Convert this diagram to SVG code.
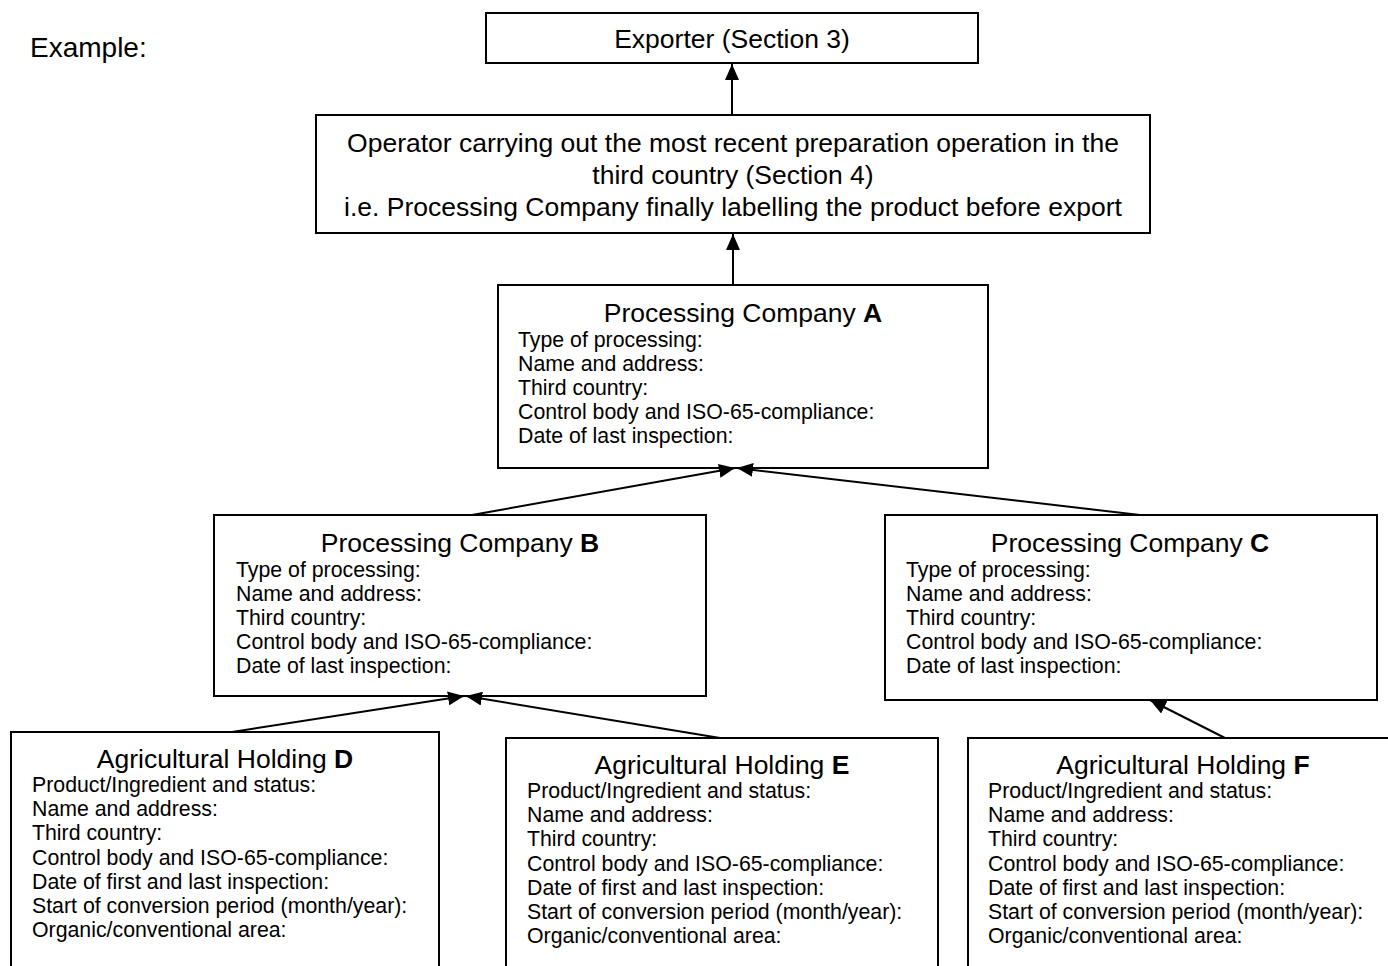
<svg xmlns="http://www.w3.org/2000/svg" width="1388" height="966" viewBox="0 0 1388 966">
<style>
text{font-family:"Liberation Sans",Arial,sans-serif;fill:#000}
.box{fill:#fff;stroke:#000;stroke-width:2}
.big{font-size:28px}
.t{font-size:26.5px}
.f{font-size:21.3px}
.c line{stroke:#000;stroke-width:2;marker-end:url(#ah)}
</style>
<defs>
<marker id="ah" viewBox="0 0 10 10" refX="10" refY="5" markerWidth="16" markerHeight="14" markerUnits="userSpaceOnUse" orient="auto" preserveAspectRatio="none">
<path d="M0,0 L10,5 L0,10 Z" fill="#000"/>
</marker>
</defs>
<rect width="1388" height="966" fill="#fff"/>
<text class="big" x="30" y="57">Example:</text>
<g id="exporter">
<rect class="box" x="486" y="13" width="492" height="50"/>
<text class="t" x="732" y="48" text-anchor="middle">Exporter (Section 3)</text>
</g>
<g id="operator">
<rect class="box" x="316" y="115" width="834" height="118"/>
<text class="t" x="733" y="152" text-anchor="middle">Operator carrying out the most recent preparation operation in the</text>
<text class="t" x="733" y="184" text-anchor="middle">third country (Section 4)</text>
<text class="t" x="733" y="216" text-anchor="middle">i.e. Processing Company finally labelling the product before export</text>
</g>
<g id="procA">
<rect class="box" x="498" y="285" width="490" height="183"/>
<text class="t" x="743" y="322" text-anchor="middle">Processing Company <tspan font-weight="bold">A</tspan></text>
<text class="f" x="518" y="347">Type of processing:</text>
<text class="f" x="518" y="371">Name and address:</text>
<text class="f" x="518" y="395">Third country:</text>
<text class="f" x="518" y="419">Control body and ISO-65-compliance:</text>
<text class="f" x="518" y="443">Date of last inspection:</text>
</g>
<g id="procB">
<rect class="box" x="214" y="515" width="492" height="181"/>
<text class="t" x="460" y="552" text-anchor="middle">Processing Company <tspan font-weight="bold">B</tspan></text>
<text class="f" x="236" y="577">Type of processing:</text>
<text class="f" x="236" y="601">Name and address:</text>
<text class="f" x="236" y="625">Third country:</text>
<text class="f" x="236" y="649">Control body and ISO-65-compliance:</text>
<text class="f" x="236" y="673">Date of last inspection:</text>
</g>
<g id="procC">
<rect class="box" x="885" y="515" width="492" height="185"/>
<text class="t" x="1130" y="552" text-anchor="middle">Processing Company <tspan font-weight="bold">C</tspan></text>
<text class="f" x="906" y="577">Type of processing:</text>
<text class="f" x="906" y="601">Name and address:</text>
<text class="f" x="906" y="625">Third country:</text>
<text class="f" x="906" y="649">Control body and ISO-65-compliance:</text>
<text class="f" x="906" y="673">Date of last inspection:</text>
</g>
<g id="holdD">
<rect class="box" x="11" y="732" width="428" height="250"/>
<text class="t" x="225" y="768" text-anchor="middle">Agricultural Holding <tspan font-weight="bold">D</tspan></text>
<text class="f" x="32" y="792">Product/Ingredient and status:</text>
<text class="f" x="32" y="816">Name and address:</text>
<text class="f" x="32" y="840">Third country:</text>
<text class="f" x="32" y="865">Control body and ISO-65-compliance:</text>
<text class="f" x="32" y="889">Date of first and last inspection:</text>
<text class="f" x="32" y="913">Start of conversion period (month/year):</text>
<text class="f" x="32" y="937">Organic/conventional area:</text>
</g>
<g id="holdE">
<rect class="box" x="506" y="738" width="432" height="250"/>
<text class="t" x="722" y="774" text-anchor="middle">Agricultural Holding <tspan font-weight="bold">E</tspan></text>
<text class="f" x="527" y="798">Product/Ingredient and status:</text>
<text class="f" x="527" y="822">Name and address:</text>
<text class="f" x="527" y="846">Third country:</text>
<text class="f" x="527" y="871">Control body and ISO-65-compliance:</text>
<text class="f" x="527" y="895">Date of first and last inspection:</text>
<text class="f" x="527" y="919">Start of conversion period (month/year):</text>
<text class="f" x="527" y="943">Organic/conventional area:</text>
</g>
<g id="holdF">
<rect class="box" x="968" y="738" width="432" height="250"/>
<text class="t" x="1183" y="774" text-anchor="middle">Agricultural Holding <tspan font-weight="bold">F</tspan></text>
<text class="f" x="988" y="798">Product/Ingredient and status:</text>
<text class="f" x="988" y="822">Name and address:</text>
<text class="f" x="988" y="846">Third country:</text>
<text class="f" x="988" y="871">Control body and ISO-65-compliance:</text>
<text class="f" x="988" y="895">Date of first and last inspection:</text>
<text class="f" x="988" y="919">Start of conversion period (month/year):</text>
<text class="f" x="988" y="943">Organic/conventional area:</text>
</g>
<g id="connectors" class="c">
<line x1="732" y1="115" x2="732" y2="64"/>
<line x1="733" y1="285" x2="733" y2="234"/>
<line x1="472" y1="515" x2="735" y2="468"/>
<line x1="1140" y1="515" x2="737" y2="468"/>
<line x1="232" y1="732" x2="464" y2="696"/>
<line x1="720" y1="738" x2="466" y2="696"/>
<line x1="1225" y1="738" x2="1150" y2="700"/>
</g>
</svg>
